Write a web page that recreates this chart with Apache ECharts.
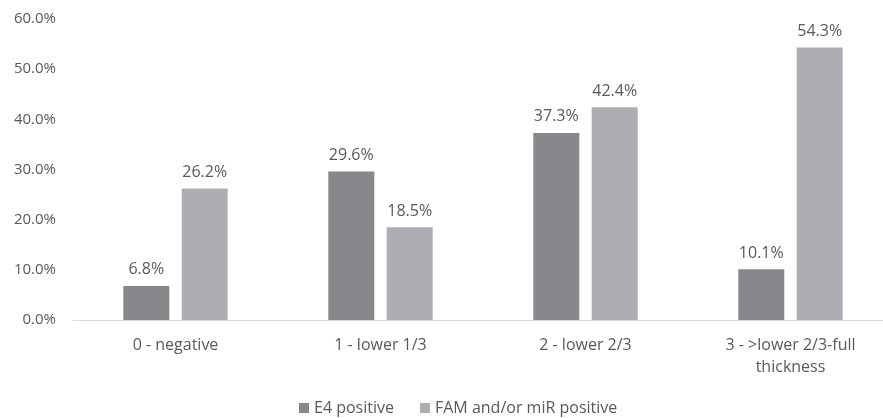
<!DOCTYPE html>
<html><head><meta charset="utf-8">
<script src="https://cdn.jsdelivr.net/npm/echarts@6/dist/echarts.min.js"></script>
<style>html,body{margin:0;padding:0;background:#fff;overflow:hidden}#c{width:900px;height:418px}</style>
</head><body><div id="c"></div>
<script>
const categories = ['0 - negative', '1 - lower 1/3', '2 - lower 2/3', '3 - >lower 2/3-full\nthickness'];
const seriesNames = ['E4 positive', 'FAM and/or miR positive'];
const e4Values = [6.8, 29.6, 37.3, 10.1];
const famValues = [26.2, 18.5, 42.4, 54.3];
const yTicks = [0, 10, 20, 30, 40, 50, 60];

const font = 'Open Sans';
const txt = '#595959';
const chart = echarts.init(document.getElementById('c'), null, {renderer: 'canvas'});
chart.setOption({
  animation: false,
  textStyle: {fontFamily: font},
  grid: {left: 73, right: 7, top: 19, bottom: 98, containLabel: false},
  legend: {
    data: seriesNames, bottom: -3, left: 294, itemWidth: 10, itemHeight: 10, itemGap: 26,
    icon: 'rect',
    textStyle: {color: txt, fontSize: 16, fontFamily: font}
  },
  xAxis: {
    type: 'category', data: categories,
    axisLine: {lineStyle: {color: '#d9d9d9', width: 1}},
    axisTick: {show: false},
    axisLabel: {color: txt, fontSize: 16, fontFamily: font, margin: 14, lineHeight: 22, interval: 0}
  },
  yAxis: {
    type: 'value', min: yTicks[0], max: yTicks[yTicks.length - 1], interval: 10,
    splitLine: {show: false},
    axisLine: {show: false}, axisTick: {show: false},
    axisLabel: {color: txt, fontSize: 15, fontFamily: font, margin: 17,
      formatter: v => v.toFixed(1) + '%'}
  },
  series: [
    {name: seriesNames[0], type: 'bar', data: e4Values, barWidth: 46, barGap: '27%',
     itemStyle: {color: '#87888b'},
     label: {show: true, position: 'top', distance: 8, color: txt, fontSize: 16, fontFamily: font,
       formatter: p => p.value.toFixed(1) + '%'}},
    {name: seriesNames[1], type: 'bar', data: famValues, barWidth: 46,
     itemStyle: {color: '#adaeb1'},
     label: {show: true, position: 'top', distance: 8, color: txt, fontSize: 16, fontFamily: font,
       formatter: p => p.value.toFixed(1) + '%'}}
  ]
});
</script></body></html>
